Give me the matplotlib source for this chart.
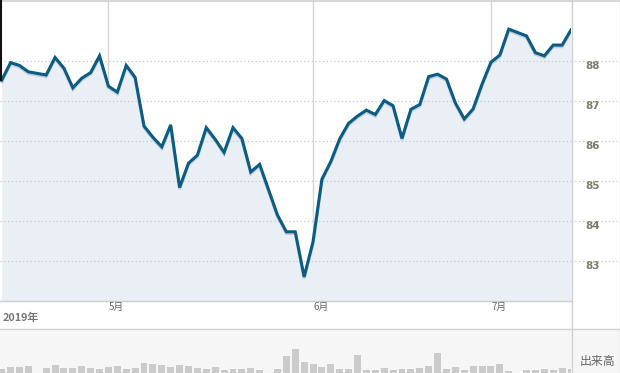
import numpy as np
import matplotlib
matplotlib.use('Agg')
import matplotlib.pyplot as plt
import matplotlib.patheffects as pe
from matplotlib.lines import Line2D
from matplotlib.patches import Rectangle

plt.rcParams['font.family'] = ['Noto Sans CJK JP', 'DejaVu Sans']

# trading days 2019-04-15 .. 2019-07-12 (weekday slots, None = market holiday)
price = [87.52, 87.96, 87.89, 87.73, None, 87.65, 88.09, 87.82, 87.33, 87.57,
         87.71, 88.13, 87.37, 87.22, 87.89, 87.59, 86.37, 86.09, 85.85, 86.40,
         84.83, 85.44, 85.64, 86.33, 86.04, 85.71, 86.33, 86.06, 85.22, 85.41,
         None, 84.14, 83.72, 83.72, 82.59, 83.47, 85.04, 85.48, 86.05, 86.44,
         86.62, 86.77, 86.66, 87.01, 86.88, 86.06, 86.79, 86.91, 87.61, 87.67,
         87.55, 86.95, 86.55, 86.80, 87.42, 87.97, 88.15, 88.80, None, 88.63,
         88.21, 88.13, 88.40, 88.40, 88.78]
volume = [43, 60, 60, 70, None, 53, 80, 53, 53, 70,
          47, 37, 60, 70, 43, 50, 100, 90, 80, 60,
          80, 70, 50, 40, 60, 33, 40, 43, 50, 33,
          None, 40, 170, 240, 110, 90, 60, 90, 40, 40,
          180, 30, 30, 50, 30, 40, 40, 50, 70, 200,
          40, 60, 30, 70, 70, 70, 90, 20, None, 30,
          30, 40, 30, 50, 40]
month_pos = [12, 35, 55]
month_labels = ['5月', '6月', '7月']
price_ticks = [83, 84, 85, 86, 87, 88]

W, H = 620, 373
fig = plt.figure(figsize=(W / 100, H / 100), dpi=100)
fig.patch.set_facecolor('white')

x = np.arange(len(price))
p = np.array([np.nan if v is None else v for v in price])
ok = ~np.isnan(p)
v = np.array([np.nan if q is None else q for q in volume])

grid_c = '#c8c8c8'
vline_c = '#d6d6d6'

# volume panel background (drawn first)
bg = fig.add_axes([0, 0, 1, 43 / H], zorder=-5)
bg.set_facecolor('#f6f6f6')
bg.axis('off')
bg.add_patch(Rectangle((0, 0), 1, 1, transform=bg.transAxes, facecolor='#f6f6f6',
                       edgecolor='none'))

# price panel
ax = fig.add_axes([0, 72 / H, 571 / W, 301 / H])
ax.set_xlim(-0.19, 64.0)
ax.set_ylim(81.985, 89.53)
ax.fill_between(x[ok], p[ok], 81.985, color='#eaeff5', lw=0, zorder=1)
ax.plot(x[ok], p[ok], color='#0b5c84', lw=2.2, solid_joinstyle='miter', zorder=3,
        path_effects=[pe.SimpleLineShadow(offset=(0, -1.2), shadow_color='#7d8d9a', alpha=0.35),
                      pe.Normal()])
for m in month_pos:
    ax.axvline(m, color=vline_c, lw=1, zorder=0.5)
for t in price_ticks:
    ax.axhline(t, color=grid_c, lw=0.9, ls=(0, (1, 2)), zorder=2)
ax.set_xticks([])
ax.yaxis.tick_right()
ax.set_yticks(price_ticks)
ax.set_yticklabels([str(t) for t in price_ticks], fontsize=7.5, fontweight='bold',
                   color='#7c7a68', family='DejaVu Sans')
ax.tick_params(axis='y', length=0, pad=10)
for lbl in ax.get_yticklabels():
    lbl.set_va('top')
for s in ax.spines.values():
    s.set_visible(False)
ax.spines['bottom'].set_visible(True)
ax.spines['bottom'].set_color('#cfcfcf')

# dotted gridlines continue across the label column
axr = fig.add_axes([571 / W, 72 / H, 49 / W, 301 / H])
axr.set_ylim(81.985, 89.53)
axr.set_xlim(0, 1)
for t in price_ticks:
    axr.axhline(t, color=grid_c, lw=0.9, ls=(0, (1, 2)))
axr.axis('off')

# month labels and year
for m, lab in zip(month_pos, month_labels):
    fig.text((1.7 + m * 8.9) / W, 1 - 302 / H, lab, fontsize=7, color='#666666',
             ha='left', va='top')
fig.text(3 / W, 1 - 313 / H, '2019年', fontsize=7.8, fontweight='bold', color='#777777',
         ha='left', va='top')

# volume bars
axv = fig.add_axes([0, 0, 571 / W, 43 / H])
axv.set_xlim(-0.19, 64.0)
axv.set_ylim(0, 430)
axv.bar(x, np.nan_to_num(v), width=0.78, color='#cbcbcb', lw=0)
axv.patch.set_alpha(0)
axv.axis('off')
fig.text(597 / W, 1 - 361 / H, '出来高', fontsize=8.6, color='#666666', ha='center', va='center')

# frame lines
fig.add_artist(Line2D([0, 1], [1 - 0.5 / H, 1 - 0.5 / H], color='#d0d0d0', lw=1.2))
fig.add_artist(Line2D([0, 1], [1 - 329 / H, 1 - 329 / H], color='#cfcfcf', lw=1))
fig.add_artist(Line2D([0, 571 / W], [1 - 301 / H, 1 - 301 / H], color='#cfcfcf', lw=1))
fig.add_artist(Line2D([571.5 / W, 571.5 / W], [0, 1], color='#d0d0d0', lw=1))
fig.add_artist(Line2D([619.5 / W, 619.5 / W], [0, 1], color='#d6d6d6', lw=1))
fig.add_artist(Line2D([0.5 / W, 0.5 / W], [1 - 80 / H, 1], color='#111111', lw=1.5))

fig.savefig('out.png', dpi=100)
